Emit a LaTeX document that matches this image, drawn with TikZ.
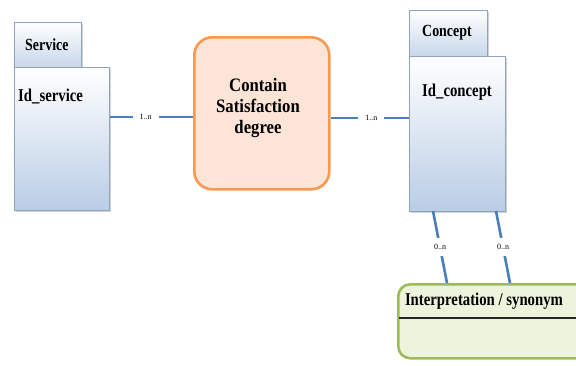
\documentclass[tikz,border=0pt]{standalone}
\usepackage{fontspec}
\setmainfont{Liberation Serif}
\usetikzlibrary{shadows}
\definecolor{linkblue}{HTML}{4A7EBB}
\definecolor{boxedge}{HTML}{8EA3BE}
\definecolor{boxlow}{HTML}{B9CDE5}
\definecolor{peach}{HTML}{FCE4D6}
\definecolor{orangeedge}{HTML}{F59A50}
\definecolor{leaf}{HTML}{EEF3DC}
\definecolor{leafedge}{HTML}{9CBB5A}
\tikzset{
  tabbox/.style={draw=boxedge, line width=0.8pt, top color=white, bottom color=boxlow!80,
    drop shadow={shadow xshift=1.5pt, shadow yshift=-1.5pt, opacity=0.35}},
  entitybox/.style={draw=boxedge, line width=0.8pt, top color=white, bottom color=boxlow,
    drop shadow={shadow xshift=1.5pt, shadow yshift=-1.5pt, opacity=0.35}},
  tabtitle/.style={font=\bfseries\fontsize{17}{19}\selectfont, inner sep=0pt},
  idtitle/.style={font=\bfseries\fontsize{18}{20}\selectfont, inner sep=0pt},
  link/.style={draw=linkblue, line width=2.6pt},
  mult/.style={font=\fontsize{8}{9}\selectfont, inner xsep=7pt, inner ysep=6pt, fill=white},
}
\newcommand{\cond}[1]{\scalebox{0.82}[1]{#1}}
\begin{document}
\begin{tikzpicture}[x=1pt,y=-1pt]
\useasboundingbox (0,0) rectangle (576,365);
% Service entity
\node[tabbox, minimum width=67pt, minimum height=45pt, anchor=north west] (svtab) at (14,22) {};
\node[entitybox, minimum width=95pt, minimum height=143pt, anchor=north west] (sv) at (14,67) {};
\node[tabtitle, anchor=west] (svname) at (25,45) {\cond{Service}};
\node[idtitle, anchor=west] (svid) at (18,97) {\cond{Id\_service}};
% Concept entity
\node[tabbox, minimum width=78pt, minimum height=46pt, anchor=north west] (cotab) at (409,10) {};
\node[entitybox, minimum width=96pt, minimum height=155pt, anchor=north west] (co) at (409,56) {};
\node[tabtitle, anchor=west] (coname) at (422,33) {\cond{Concept}};
\node[idtitle, anchor=west] (coid) at (422,92) {\cond{Id\_concept}};
% Relation
\node[draw=orangeedge, line width=2.6pt, fill=peach, rounded corners=18pt,
  minimum width=135pt, minimum height=152pt, anchor=north west] (rel) at (193,36) {};
\node[align=center, inner sep=0pt, font=\bfseries\fontsize{19}{21}\selectfont] (reltext) at (258,108)
  {\scalebox{0.88}[1]{Contain}\\\scalebox{0.88}[1]{Satisfaction}\\\scalebox{0.88}[1]{degree}};
% Interpretation / synonym
\node[draw=leafedge, line width=2.6pt, fill=leaf, rounded corners=12pt,
  minimum width=190pt, minimum height=74pt, anchor=north west] (syn) at (397,283) {};
\draw[line width=1.2pt, black!85] (399,318) -- (576,318);
\node[idtitle] (syntext) at (484,301) {\cond{Interpretation / synonym}};
% Links
\coordinate (svout) at (sv.east |- 0,117);
\coordinate (relin) at (rel.west |- 0,117);
\coordinate (relout) at (rel.east |- 0,118);
\coordinate (coin) at (co.west |- 0,118);
\draw[link] (svout) -- node[mult, pos=0.43] (m1) {1..n} (relin);
\draw[link] (relout) -- node[mult, pos=0.52] (m2) {1..n} (coin);
\coordinate (cob1) at (433,211);
\coordinate (cob2) at (496,211);
\coordinate (syn1) at (447,283);
\coordinate (syn2) at (510,283);
\draw[link] (cob1) -- node[mult, pos=0.5] (m3) {0..n} (syn1);
\draw[link] (cob2) -- node[mult, pos=0.5] (m4) {0..n} (syn2);
\end{tikzpicture}
\end{document}
